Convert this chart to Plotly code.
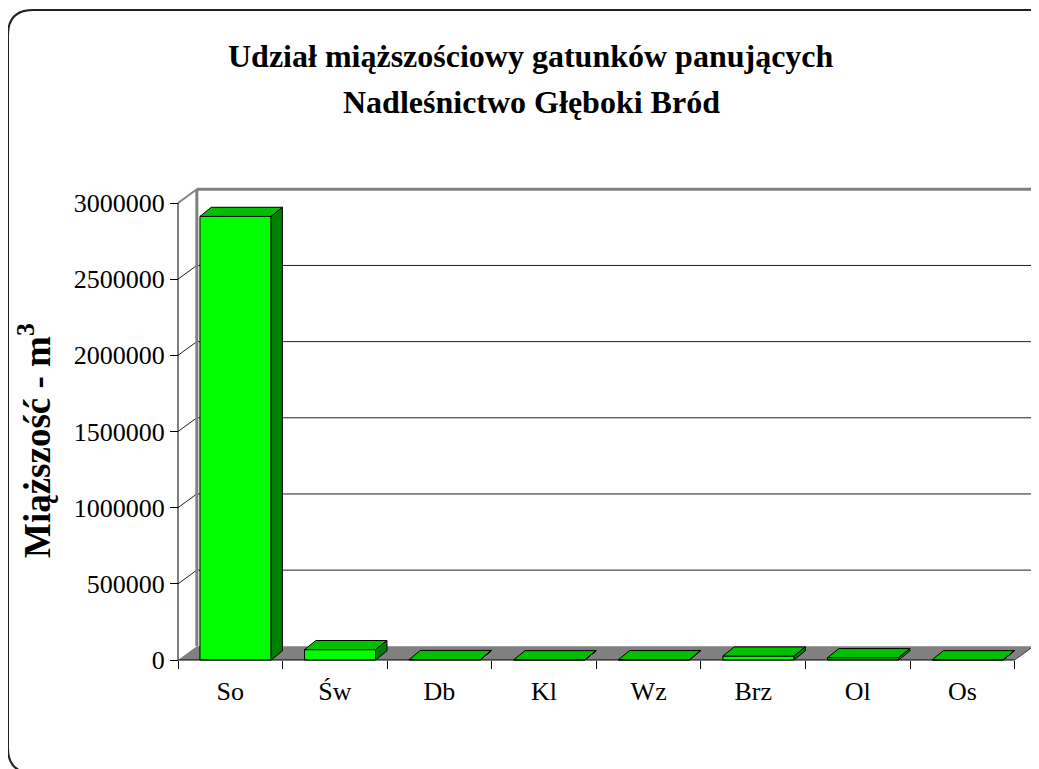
import plotly.graph_objects as go

# ---------------- data ----------------
categories = ["So", "Św", "Db", "Kl", "Wz", "Brz", "Ol", "Os"]
volumes = [2912000, 68000, 3000, 1500, 2000, 26000, 15000, 1500]
y_ticks = [0, 500000, 1000000, 1500000, 2000000, 2500000, 3000000]
y_tick_labels = [str(v) for v in y_ticks]
title_lines = ["Udział miąższościowy gatunków panujących", "Nadleśnictwo Głęboki Bród"]
y_title = "Miąższość - m<sup>3</sup>"

# ---------------- layout geometry ----------------
OFF = 8                                   # page body margin in the browser
W, H = 1039 - OFF, 769 - OFF
L, T, RP, BP = 170 - OFF, 182 - OFF, 1039 - OFF, 665 - OFF   # plot-area pixel box
X0_PX, Y0_PX = 178 - OFF, 660 - OFF                          # front-axis corner pixel
PX_PER_CAT = 104.59
PX_PER_VAL = 457 / 3e6

x_range = [-0.5 - (X0_PX - L) / PX_PER_CAT, -0.5 + (RP - X0_PX) / PX_PER_CAT]
y_range = [-(BP - Y0_PX) / PX_PER_VAL, (Y0_PX - T) / PX_PER_VAL]

DXW, DYW = 0.18, 90000      # wall depth offset (category units, value units)
DXB, DYB = 0.108, 60000     # bar depth offset
BAR_OFF, BAR_W = -0.29, 0.68
n = len(categories)
x_end = x_range[1]
ymax = y_ticks[-1]

FONT = "Liberation Serif"

fig = go.Figure()

# front faces
fig.add_trace(go.Bar(
    x=list(range(n)), y=volumes, width=BAR_W, offset=BAR_OFF,
    marker=dict(color="#00FF00", line=dict(color="black", width=1)),
    hoverinfo="skip", showlegend=False,
))

# top and side faces
for i, v in enumerate(volumes):
    l = i + BAR_OFF
    r = l + BAR_W
    fig.add_trace(go.Scatter(
        x=[l, r, r + DXB, l + DXB, l], y=[v, v, v + DYB, v + DYB, v],
        mode="lines", fill="toself", fillcolor="#00C000",
        line=dict(color="black", width=1), hoverinfo="skip", showlegend=False,
    ))
    fig.add_trace(go.Scatter(
        x=[r, r + DXB, r + DXB, r, r], y=[0, DYB, v + DYB, v, 0],
        mode="lines", fill="toself", fillcolor="#008000",
        line=dict(color="black", width=1), hoverinfo="skip", showlegend=False,
    ))

shapes = []
# floor
shapes.append(dict(type="path", xref="x", yref="y", layer="below",
                   path=f"M {-0.5},0 L {n-0.5},0 L {n-0.5+DXW},{DYW} L {-0.5+DXW},{DYW} Z",
                   fillcolor="#808080", line=dict(width=0)))
# floor right edge
shapes.append(dict(type="line", xref="x", yref="y", layer="below",
                   x0=n - 0.5, y0=0, x1=n - 0.5 + DXW, y1=DYW,
                   line=dict(color="#404040", width=1)))
# gridlines on back wall + diagonals on left wall
for v in y_ticks[1:-1]:
    shapes.append(dict(type="line", xref="x", yref="y", layer="below",
                       x0=-0.5 + DXW, y0=v + DYW, x1=x_end, y1=v + DYW,
                       line=dict(color="#202020", width=1)))
    shapes.append(dict(type="line", xref="x", yref="y", layer="below",
                       x0=-0.5, y0=v, x1=-0.5 + DXW, y1=v + DYW,
                       line=dict(color="#202020", width=1)))
# back wall left edge and top edge
shapes.append(dict(type="line", xref="x", yref="y", layer="below",
                   x0=-0.5 + DXW, y0=DYW, x1=-0.5 + DXW, y1=ymax + DYW,
                   line=dict(color="#808080", width=3)))
shapes.append(dict(type="line", xref="x", yref="y", layer="below",
                   x0=-0.5 + DXW, y0=ymax + DYW, x1=x_end, y1=ymax + DYW,
                   line=dict(color="#808080", width=3)))
shapes.append(dict(type="line", xref="x", yref="y", layer="below",
                   x0=-0.5, y0=ymax, x1=-0.5 + DXW, y1=ymax + DYW,
                   line=dict(color="#808080", width=2)))
# front axis lines
shapes.append(dict(type="line", xref="x", yref="y", layer="above",
                   x0=-0.5, y0=0, x1=-0.5, y1=ymax,
                   line=dict(color="black", width=1)))
shapes.append(dict(type="line", xref="x", yref="y", layer="above",
                   x0=-0.5, y0=0, x1=n - 0.5, y1=0,
                   line=dict(color="black", width=1)))

# outer rounded frame (paper coordinates)
def px(xp):
    return (xp - L) / (RP - L)

def py(yp):
    return (BP - yp) / (BP - T)

fl, ft, fr, fb, rad = 8 - OFF, 10 - OFF, 1060, 773 - OFF, 25
frame_path = (
    f"M {px(fl)},{py(ft + rad)} Q {px(fl)},{py(ft)} {px(fl + rad)},{py(ft)} "
    f"L {px(fr - rad)},{py(ft)} Q {px(fr)},{py(ft)} {px(fr)},{py(ft + rad)} "
    f"L {px(fr)},{py(fb - rad)} Q {px(fr)},{py(fb)} {px(fr - rad)},{py(fb)} "
    f"L {px(fl + rad)},{py(fb)} Q {px(fl)},{py(fb)} {px(fl)},{py(fb - rad)} Z"
)
shapes.append(dict(type="path", xref="paper", yref="paper", layer="below",
                   path=frame_path, line=dict(color="#222222", width=2)))

annotations = [
    dict(text=f"<b>{title_lines[0]}</b>", xref="paper", yref="paper",
         x=px(531 - OFF), y=py(56 - OFF), showarrow=False, xanchor="center", yanchor="middle",
         font=dict(family=FONT, size=32, color="black")),
    dict(text=f"<b>{title_lines[1]}</b>", xref="paper", yref="paper",
         x=px(531 - OFF), y=py(102 - OFF), showarrow=False, xanchor="center", yanchor="middle",
         font=dict(family=FONT, size=32, color="black")),
    dict(text=f"<b>{y_title}</b>", xref="paper", yref="paper",
         x=px(35 - OFF), y=py(441 - OFF), showarrow=False, textangle=-90,
         xanchor="center", yanchor="middle",
         font=dict(family=FONT, size=37, color="black")),
]

fig.update_layout(
    width=W, height=H,
    margin=dict(l=L, r=W - RP, t=T, b=H - BP, autoexpand=False),
    paper_bgcolor="white", plot_bgcolor="rgba(0,0,0,0)",
    showlegend=False, shapes=shapes, annotations=annotations,
    font=dict(family=FONT, color="black"),
    xaxis=dict(
        range=x_range, showgrid=False, zeroline=False, showline=False,
        tickmode="array", tickvals=list(range(n)), ticktext=categories,
        ticks="", anchor="free", position=py(Y0_PX),
        tickfont=dict(family=FONT, size=26, color="black"),
        ticklabelstandoff=13,
        minor=dict(tickmode="array", tickvals=[i - 0.5 for i in range(n + 1)],
                   ticks="outside", ticklen=8, tickcolor="black", tickwidth=1,
                   showgrid=False),
        fixedrange=True,
    ),
    yaxis=dict(
        range=y_range, showgrid=False, zeroline=False, showline=False,
        tickmode="array", tickvals=y_ticks, ticktext=y_tick_labels,
        ticks="outside", ticklen=8, tickcolor="black", tickwidth=1,
        anchor="free", position=px(X0_PX),
        tickfont=dict(family=FONT, size=26, color="black"),
        fixedrange=True,
    ),
)

fig.write_html("out.html")
